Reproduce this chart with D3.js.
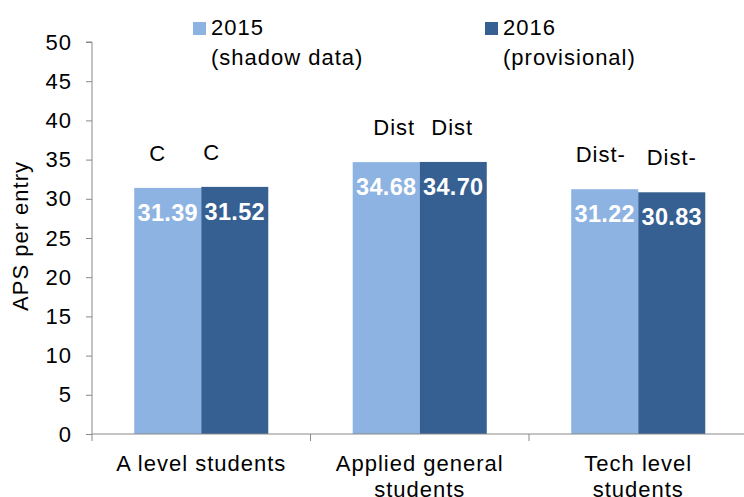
<!DOCTYPE html>
<html>
<head>
<meta charset="utf-8">
<script src="https://cdn.jsdelivr.net/npm/d3@7"></script>
<style>
  body { margin: 0; background: #fff; }
  svg { font-family: "Liberation Sans", Arial, sans-serif; }
  svg text { letter-spacing: 1px; }
</style>
</head>
<body>
<div id="chart"></div>
<script>
var width = 744;
var height = 497;

// data
var categories = [["A level students"], ["Applied general", "students"], ["Tech level", "students"]];
var seriesNames = [["2015", "(shadow data)"], ["2016", "(provisional)"]];
var values2015 = [31.39, 34.68, 31.22];
var values2016 = [31.52, 34.70, 30.83];
var grades2015 = ["C", "Dist", "Dist-"];
var grades2016 = ["C", "Dist", "Dist-"];
var yTicks = [0, 5, 10, 15, 20, 25, 30, 35, 40, 45, 50];

var colors = ["#8db3e2", "#376092"];
// small nudges of the grade text boxes, as placed in the original
var gradeDx = [[-10, -23], [8, -1], [-4, 0]];

var margin = { left: 92, top: 42, bottom: 63 };
var bandW = 218.5;
var fs = 22;

var y = d3.scaleLinear().domain([0, 50]).range([height - margin.bottom, margin.top]);
var x0 = d3.scaleBand()
  .domain(d3.range(categories.length))
  .range([margin.left, margin.left + bandW * categories.length])
  .paddingInner(0).paddingOuter(0);
var x1 = d3.scaleBand()
  .domain([0, 1])
  .range([0, x0.bandwidth()])
  .paddingInner(0)
  .paddingOuter(0.63);

var svg = d3.select("#chart").append("svg")
  .attr("width", width)
  .attr("height", height);

var rows = categories.map(function(c, i) {
  return [
    { cat: i, s: 0, value: values2015[i], grade: grades2015[i] },
    { cat: i, s: 1, value: values2016[i], grade: grades2016[i] }
  ];
});

// y axis
var yAxis = svg.append("g")
  .attr("transform", "translate(" + margin.left + ",0)")
  .call(d3.axisLeft(y).tickValues(yTicks).tickSize(6).tickPadding(14));
yAxis.select(".domain").attr("stroke", "#898989").attr("d", "M0," + y(0) + "V" + y(50) + "H-6");
yAxis.selectAll(".tick line").attr("stroke", "#898989");
yAxis.selectAll(".tick text")
  .attr("font-size", fs)
  .attr("font-family", "Liberation Sans, Arial, sans-serif")
  .attr("fill", "#000");

// bars
var group = svg.selectAll(".cat")
  .data(rows)
  .enter().append("g")
  .attr("class", "cat")
  .attr("transform", function(d, i) { return "translate(" + x0(i) + ",0)"; });

group.selectAll("rect")
  .data(function(d) { return d; })
  .enter().append("rect")
  .attr("x", function(d) { return x1(d.s); })
  .attr("y", function(d) { return y(d.value); })
  .attr("width", x1.bandwidth())
  .attr("height", function(d) { return y(0) - y(d.value); })
  .attr("fill", function(d) { return colors[d.s]; });

group.selectAll(".val")
  .data(function(d) { return d; })
  .enter().append("text")
  .attr("class", "val")
  .attr("x", function(d) { return x1(d.s) + x1.bandwidth() / 2; })
  .attr("y", function(d) { return y(d.value) + 33; })
  .attr("text-anchor", "middle")
  .attr("font-size", 23.5)
  .attr("font-weight", "bold")
  .attr("fill", "#fff")
  .style("letter-spacing", "0.3px")
  .text(function(d) { return d.value.toFixed(2); });

group.selectAll(".grade")
  .data(function(d) { return d; })
  .enter().append("text")
  .attr("class", "grade")
  .attr("x", function(d) { return x1(d.s) + x1.bandwidth() / 2 + gradeDx[d.cat][d.s]; })
  .attr("y", function(d) { return y(d.value) - 27; })
  .attr("text-anchor", "middle")
  .attr("font-size", fs)
  .attr("fill", "#000")
  .text(function(d) { return d.grade; });

// x axis
var xAxis = svg.append("g").attr("transform", "translate(0," + y(0) + ")");
xAxis.append("line")
  .attr("x1", margin.left).attr("x2", width)
  .attr("stroke", "#898989");
xAxis.selectAll(".xt")
  .data(d3.range(categories.length + 1))
  .enter().append("line")
  .attr("x1", function(i) { return margin.left + bandW * i; })
  .attr("x2", function(i) { return margin.left + bandW * i; })
  .attr("y1", 0).attr("y2", 7)
  .attr("stroke", "#898989");

var catLabels = xAxis.selectAll(".cl")
  .data(categories)
  .enter().append("text")
  .attr("class", "cl")
  .attr("text-anchor", "middle")
  .attr("font-size", fs)
  .attr("fill", "#000")
  .attr("transform", function(d, i) { return "translate(" + (x0(i) + x0.bandwidth() / 2) + ",37)"; });
catLabels.selectAll("tspan")
  .data(function(d) { return d; })
  .enter().append("tspan")
  .attr("x", 0)
  .attr("y", function(d, i) { return i * 26; })
  .text(function(d) { return d; });

// y title
svg.append("text")
  .attr("transform", "translate(28,236) rotate(-90)")
  .attr("text-anchor", "middle")
  .attr("font-size", fs)
  .attr("fill", "#000")
  .text("APS per entry");

// legend
var legendX = [193, 485];
var legend = svg.selectAll(".leg")
  .data(seriesNames)
  .enter().append("g")
  .attr("class", "leg")
  .attr("transform", function(d, i) { return "translate(" + legendX[i] + ",22)"; });
legend.append("rect")
  .attr("width", 13).attr("height", 13)
  .attr("fill", function(d, i) { return colors[i]; });
var legText = legend.append("text")
  .attr("font-size", fs)
  .attr("fill", "#000");
legText.selectAll("tspan")
  .data(function(d) { return d; })
  .enter().append("tspan")
  .attr("x", 18)
  .attr("y", function(d, i) { return 13 + i * 30; })
  .text(function(d) { return d; });
</script>
</body>
</html>
